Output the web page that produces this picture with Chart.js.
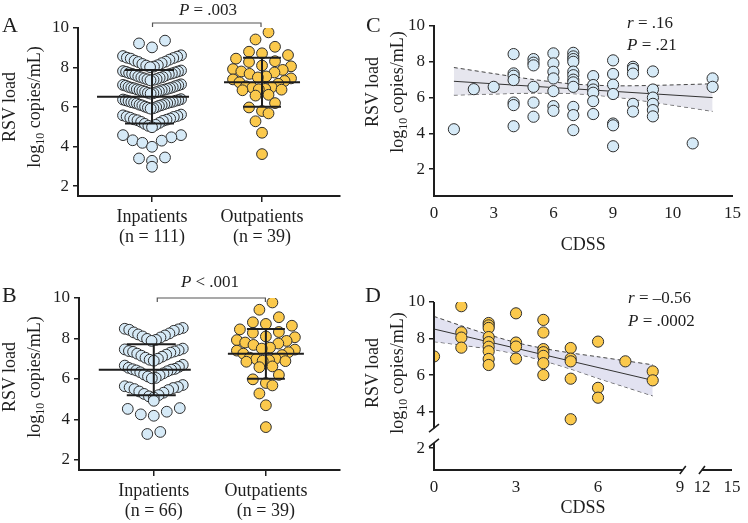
<!DOCTYPE html>
<html><head><meta charset="utf-8">
<script src="https://cdn.jsdelivr.net/npm/chart.js@4.4.1/dist/chart.umd.min.js"></script>
<style>
html,body{margin:0;padding:0;background:#fff;}
#wrap{position:relative;width:748px;height:523px;overflow:hidden;font-family:'Liberation Serif','Times New Roman',serif;color:#1e1e1e;}
canvas{position:absolute;}
.t{position:absolute;white-space:nowrap;line-height:1;font-size:17px;}
.c{transform:translateX(-50%);}
.lbl{position:absolute;font-size:22px;line-height:1;}
.yt{position:absolute;white-space:nowrap;line-height:25px;font-size:18px;text-align:center;transform:translate(-50%,-50%) rotate(-90deg);}
.yt .s{font-size:12px;position:relative;top:4px;}
</style></head>
<body>
<div id="wrap">
  <canvas id="cA" width="374" height="260" style="left:0;top:0"></canvas>
  <canvas id="cB" width="374" height="263" style="left:0;top:260px"></canvas>
  <canvas id="cC" width="374" height="260" style="left:374px;top:0"></canvas>
  <canvas id="cD" width="374" height="263" style="left:374px;top:260px"></canvas>

  <div class="lbl" style="left:2px;top:14px">A</div>
  <div class="lbl" style="left:2px;top:284px">B</div>
  <div class="lbl" style="left:366px;top:14px">C</div>
  <div class="lbl" style="left:365px;top:284px">D</div>

  <div class="yt" style="left:23px;top:107px">RSV load<br>log<span class="s">10</span> copies/mL)</div>
  <div class="yt" style="left:23px;top:377px">RSV load<br>log<span class="s">10</span> copies/mL)</div>
  <div class="yt" style="left:386px;top:92px">RSV load<br>log<span class="s">10</span> copies/mL)</div>
  <div class="yt" style="left:386px;top:373px">RSV load<br>log<span class="s">10</span> copies/mL)</div>

  <div class="t c" style="left:208px;top:1px"><i>P</i> = .003</div>
  <div class="t c" style="left:210px;top:273px"><i>P</i> &lt; .001</div>
  <div class="t" style="left:627px;top:14px"><i>r</i> = .16</div>
  <div class="t" style="left:627px;top:36px"><i>P</i> = .21</div>
  <div class="t" style="left:628px;top:289px"><i>r</i> = &#8211;0.56</div>
  <div class="t" style="left:628px;top:312px"><i>P</i> = .0002</div>
</div>
<script>
// ---------------- DATA ----------------
const yTicks = [2, 4, 6, 8, 10];
const groupLabelsA = [["Inpatients", "(n = 111)"], ["Outpatients", "(n = 39)"]];
const groupLabelsB = [["Inpatients", "(n = 66)"], ["Outpatients", "(n = 39)"]];

const inpatientsA = [
  9.36, 9.22, 9.02,
  8.62, 8.58, 8.55, 8.50, 8.48, 8.45, 8.40, 8.35, 8.30, 8.28, 8.22, 8.18, 8.12, 8.10, 8.05, 8.02,
  7.85, 7.82, 7.80, 7.78, 7.75, 7.72, 7.70, 7.68, 7.66, 7.62, 7.60, 7.55, 7.52, 7.50, 7.48, 7.45, 7.42, 7.40, 7.38, 7.35,
  7.15, 7.12, 7.10, 7.08, 7.06, 7.02, 7.00, 6.98, 6.96, 6.95, 6.92, 6.90, 6.88, 6.86, 6.85, 6.82, 6.80, 6.78, 6.75, 6.72, 6.70, 6.68,
  6.40, 6.38, 6.35, 6.34, 6.32, 6.30, 6.27, 6.25, 6.24, 6.22, 6.20, 6.18, 6.15, 6.12, 6.10, 6.08, 6.06, 6.02, 6.00, 5.97, 5.94, 5.92,
  5.62, 5.58, 5.55, 5.52, 5.50, 5.46, 5.42, 5.38, 5.36, 5.33, 5.30, 5.25, 5.20, 5.15, 5.10, 5.05, 4.98,
  4.58, 4.58, 4.47, 4.32, 4.30, 4.19, 3.99,
  3.45, 3.40, 3.28, 2.98
];
const outpatients = [
  9.78, 9.42, 9.05, 8.80, 8.72, 8.63, 8.45, 8.32, 8.28, 8.10, 8.06, 7.92, 7.88, 7.80, 7.75, 7.68,
  7.55, 7.50, 7.45, 7.40, 7.32, 7.25, 7.18, 7.05, 7.00, 6.98, 6.92, 6.90, 6.88, 6.85, 6.62, 6.58,
  6.20, 5.98, 5.80, 5.68, 5.28, 4.70, 3.62
];
const inpatientsB = [
  8.52, 8.48, 8.45, 8.43, 8.38, 8.30, 8.25, 8.20, 8.15, 8.10, 8.05, 7.98, 7.93, 7.88,
  7.50, 7.46, 7.42, 7.38, 7.36, 7.34, 7.30, 7.25, 7.20, 7.15, 7.10, 7.05, 7.00, 6.95, 6.90,
  6.70, 6.66, 6.60, 6.55, 6.50, 6.48, 6.46, 6.42, 6.38, 6.33, 6.28, 6.22, 6.18, 6.12, 6.05, 6.03,
  5.70, 5.64, 5.60, 5.58, 5.55, 5.50, 5.45, 5.38, 5.32, 5.26, 5.20, 5.14, 5.08,
  4.92, 4.56, 4.52, 4.38, 4.25, 4.18,
  3.38, 3.28
];
const meanA = [6.52, 7.25];
const sdA = [1.35, 1.24];
const meanB = [6.45, 7.24];
const sdB = [1.26, 1.23];

// Panel C: CDSS vs load (inpatients)
const cdssC = [1, 2, 3,
  4, 4, 4, 4, 4, 4, 4,
  5, 5, 5, 5, 5, 5,
  6, 6, 6, 6, 6, 6, 6,
  7, 7, 7, 7, 7, 7, 7, 7, 7, 7, 7, 7,
  8, 8, 8, 8, 8, 8,
  9, 9, 9, 9, 9, 9, 9,
  10, 10, 10, 10, 10,
  11, 11, 11, 11, 11, 11,
  13, 14, 14];
const loadC = [4.23, 6.47, 6.60,
  8.43, 7.35, 7.22, 6.98, 5.72, 5.58, 4.40,
  8.15, 7.95, 7.80, 6.60, 5.72, 4.93,
  8.47, 7.91, 7.44, 7.07, 6.36, 5.52, 5.26,
  8.50, 8.30, 8.15, 8.00, 7.45, 7.25, 7.00, 6.85, 6.60, 5.48, 5.02, 4.18,
  7.20, 6.70, 6.45, 6.27, 5.80, 5.08,
  8.08, 7.32, 6.72, 6.20, 4.55, 4.45, 3.28,
  7.72, 7.60, 7.34, 5.65, 5.22,
  7.46, 6.45, 6.00, 5.65, 5.30, 4.95,
  3.44, 7.07, 6.60];
const fitCx = [1, 14];
const fitCy = [6.91, 6.00];
const bandCx = [1, 3, 5, 7, 9, 11, 14];
const bandCupper = [7.68, 7.34, 7.01, 6.76, 6.66, 6.68, 6.77];
const bandClower = [6.14, 6.20, 6.25, 6.22, 6.04, 5.74, 5.23];
const xTicksC = [0, 3, 6, 9, 12, 15];
const xTickLabelsC = ["0", "3", "6", "9", "10", "15"];

// Panel D: CDSS vs load (outpatients)
const cdssD = [0,
  1, 1, 1, 1,
  2, 2, 2, 2, 2, 2, 2, 2, 2,
  3, 3, 3, 3,
  4, 4, 4, 4, 4, 4, 4,
  5, 5, 5, 5, 5,
  6, 6, 6,
  7,
  8, 8];
const loadD = [7.02,
  9.77, 8.34, 8.05, 7.50,
  8.85, 8.72, 8.58, 8.08, 7.80, 7.55, 7.30, 6.88, 6.55,
  9.38, 7.78, 7.56, 6.90,
  9.02, 8.33, 7.42, 7.25, 7.05, 6.65, 6.00,
  7.48, 6.90, 6.75, 5.80, 3.58,
  7.83, 5.30, 4.76,
  6.75,
  6.20, 5.71];
const fitDx = [0, 8];
const fitDy = [8.52, 5.71];
const bandDx = [0, 1, 2, 3, 4, 5, 6, 7, 8];
const bandDupper = [9.21, 8.70, 8.21, 7.78, 7.46, 7.21, 7.00, 6.78, 6.56];
const bandDlower = [7.83, 7.64, 7.43, 7.16, 6.78, 6.33, 5.82, 5.34, 4.86];
const xTicksD = [0, 3, 6, 9, 12, 15];
const xTickLabelsD = ["0", "3", "6", "9", "12", "15"];

// ---------------- STYLE / HELPERS ----------------
const SERIF = "'Liberation Serif','Times New Roman',serif";
const INK = '#1e1e1e';
const BLUE = '#d6eaf7';
const YELLOW = '#fbc94c';
const PT_BORDER = '#2e2e2e';

// broken D x-axis: map real CDSS to axis position (9 -> 12 gap compressed)
function mapD(v) { return v <= 9 ? v : 9.8 + (v - 12) * (1.1 / 3); }

// rows of a dot plot: either fixed bins or gap-separated clusters
function rowGroups(values, opt) {
  const groups = [];
  if (opt.mode === 'bin') {
    const bins = new Map();
    values.forEach((v, i) => {
      const k = Math.floor((v - opt.base) / opt.h);
      if (!bins.has(k)) bins.set(k, []);
      bins.get(k).push(i);
    });
    bins.forEach(g => groups.push(g));
  } else {
    const idx = values.map((v, i) => i).sort((a, b) => values[b] - values[a]);
    let cur = [], top = 0, prev = 0;
    idx.forEach(i => {
      const v = values[i];
      if (cur.length && (prev - v > opt.gap || top - v > opt.maxH)) { groups.push(cur); cur = []; }
      if (!cur.length) top = v;
      cur.push(i); prev = v;
    });
    if (cur.length) groups.push(cur);
  }
  return groups;
}

function swarmOffsets(values, opt) {
  const off = new Array(values.length).fill(0);
  rowGroups(values, opt).forEach(idx => {
    idx.sort((a, b) => values[a] - values[b]);
    const n = idx.length;
    const s = n > 1 ? Math.min(opt.spacing, opt.maxW / (n - 1)) : 0;
    const slots = [];
    for (let j = 0; j < n; j++) slots.push((j - (n - 1) / 2) * s);
    slots.sort((a, b) => (Math.abs(a) - Math.abs(b)) || (a - b));
    idx.forEach((p, j) => { off[p] = slots[j]; });
  });
  return off;
}

function yAxis(min, width, opts = {}) {
  return {
    type: 'linear', min: min, max: 10,
    afterBuildTicks: s => { s.ticks = yTicks.map(v => ({ value: v })); },
    afterFit: s => { s.width = width; },
    border: { display: opts.border !== false, color: INK, width: 2 },
    grid: { display: true, drawOnChartArea: false, drawTicks: true, tickLength: 5, color: INK, lineWidth: 1.5 },
    ticks: { color: INK, font: { family: SERIF, size: 17 }, padding: 4 }
  };
}

const meanSdPlugin = {
  id: 'meanSd',
  afterDatasetsDraw(chart, args, o) {
    if (!o || !o.means) return;
    const { ctx, scales: { x, y } } = chart;
    ctx.save();
    ctx.strokeStyle = INK;
    ctx.lineWidth = 2;
    o.means.forEach((m, i) => {
      const cx = x.getPixelForValue(i);
      const my = y.getPixelForValue(m);
      const hy = y.getPixelForValue(m + o.sds[i]);
      const ly = y.getPixelForValue(m - o.sds[i]);
      const mw = o.meanW[i], cw = o.capW[i];
      ctx.beginPath();
      ctx.moveTo(cx - mw[0], my); ctx.lineTo(cx + mw[1], my);
      ctx.moveTo(cx, hy); ctx.lineTo(cx, ly);
      ctx.moveTo(cx - cw[0], hy); ctx.lineTo(cx + cw[1], hy);
      ctx.moveTo(cx - cw[0], ly); ctx.lineTo(cx + cw[1], ly);
      ctx.stroke();
    });
    const b = o.bracket;
    const by = y.getPixelForValue(10) + b.dy;
    const x0 = x.getPixelForValue(0) + b.dx0, x1 = x.getPixelForValue(1) + b.dx1;
    ctx.strokeStyle = '#555';
    ctx.lineWidth = 1.2;
    ctx.beginPath();
    ctx.moveTo(x0, by + 4); ctx.lineTo(x0, by); ctx.lineTo(x1, by); ctx.lineTo(x1, by + 4);
    ctx.stroke();
    ctx.restore();
  }
};

const brokenAxesPlugin = {
  id: 'brokenAxes',
  afterDraw(chart, args, o) {
    if (!o || !o.xBreak) return;
    const { ctx, chartArea: a, scales: { x, y } } = chart;
    ctx.save();
    ctx.strokeStyle = INK;
    ctx.lineWidth = 2;
    const xb1 = x.getPixelForValue(o.xBreak[0]), xb2 = x.getPixelForValue(o.xBreak[1]);
    const yb1 = y.getPixelForValue(o.yBreak[0]), yb2 = y.getPixelForValue(o.yBreak[1]);
    ctx.beginPath();
    ctx.moveTo(a.left, a.top); ctx.lineTo(a.left, yb1);
    ctx.moveTo(a.left, yb2); ctx.lineTo(a.left, a.bottom);
    ctx.moveTo(a.left - 1, a.bottom); ctx.lineTo(xb1, a.bottom);
    ctx.moveTo(xb2, a.bottom); ctx.lineTo(a.right, a.bottom);
    ctx.stroke();
    ctx.lineWidth = 1.6;
    ctx.beginPath();
    [yb1, yb2].forEach(py => { ctx.moveTo(a.left - 5, py + 4); ctx.lineTo(a.left + 5, py - 4); });
    [xb1, xb2].forEach(px => { ctx.moveTo(px - 3, a.bottom + 4); ctx.lineTo(px + 3, a.bottom - 4); });
    ctx.stroke();
    ctx.restore();
  }
};

function swarmChart(id, inVals, outVals, labels, means, sds, L) {
  const chart = new Chart(document.getElementById(id), {
    type: 'scatter',
    data: {
      datasets: [
        { data: inVals.map(v => ({ x: 0, y: v })), backgroundColor: BLUE, borderColor: PT_BORDER, borderWidth: 1, pointRadius: 5.4 },
        { data: outVals.map(v => ({ x: 1, y: v })), backgroundColor: YELLOW, borderColor: PT_BORDER, borderWidth: 1, pointRadius: 5.4 }
      ]
    },
    options: {
      responsive: false, animation: false, events: [],
      layout: { padding: { top: L.top, right: L.right, left: 0, bottom: 0 } },
      plugins: {
        legend: { display: false }, tooltip: { enabled: false },
        meanSd: { means: means, sds: sds, meanW: [[55, 37], [38, 38]], capW: [[27, 22], [19, 19]], bracket: L.bracket }
      },
      scales: {
        x: {
          type: 'linear', min: L.xmin, max: L.xmax,
          afterBuildTicks: s => { s.ticks = [{ value: 0 }, { value: 1 }]; },
          afterFit: s => { s.height = L.xh; },
          border: { display: true, color: INK, width: 2 },
          grid: { display: true, drawOnChartArea: false, drawTicks: true, tickLength: 6, color: INK, lineWidth: 1.5 },
          ticks: { color: INK, font: { family: SERIF, size: 18, lineHeight: 1.13 }, padding: 5,
                   callback: (v, i) => labels[i] }
        },
        y: yAxis(1.5, L.yw)
      }
    },
    plugins: [meanSdPlugin]
  });
  const x = chart.scales.x;
  const pxPerX = x.getPixelForValue(1) - x.getPixelForValue(0);
  const oi = swarmOffsets(inVals, { mode: 'gap', gap: 0.25, maxH: 0.68, spacing: 13, maxW: 58 });
  const oo = swarmOffsets(outVals, { mode: 'bin', h: 0.6, base: 0.3, spacing: 13, maxW: 58 });
  chart.data.datasets[0].data = inVals.map((v, i) => ({ x: oi[i] / pxPerX, y: v }));
  chart.data.datasets[1].data = outVals.map((v, i) => ({ x: 1 + oo[i] / pxPerX, y: v }));
  chart.update('none');
  return chart;
}

swarmChart('cA', inpatientsA, outpatients, groupLabelsA, meanA, sdA,
  { top: 28, right: 34, xh: 64, yw: 78, xmin: -0.673, xmax: 1.709, bracket: { dy: -5, dx0: 0.5, dx1: -1 } });
swarmChart('cB', inpatientsB, outpatients, groupLabelsB, meanB, sdB,
  { top: 38, right: 34, xh: 53, yw: 79, xmin: -0.667, xmax: 1.661, bracket: { dy: 0, dx0: 3.5, dx1: -0.5 } });

function corrChart(id, xs, ys, color, fitX, fitY, bx, bup, blo, bandColor, L) {
  const mapX = L.mapX || (v => v);
  return new Chart(document.getElementById(id), {
    type: 'scatter',
    data: {
      datasets: [
        { data: xs.map((v, i) => ({ x: mapX(v), y: ys[i] })), backgroundColor: color, borderColor: PT_BORDER, borderWidth: 1, pointRadius: 5.6 },
        { type: 'line', data: fitX.map((v, i) => ({ x: mapX(v), y: fitY[i] })), borderColor: '#333', borderWidth: 1, pointRadius: 0, fill: false },
        { type: 'line', data: bx.map((v, i) => ({ x: mapX(v), y: bup[i] })), borderColor: '#444', borderWidth: 1, borderDash: [4, 3], pointRadius: 0, tension: 0.3, fill: '+1', backgroundColor: bandColor },
        { type: 'line', data: bx.map((v, i) => ({ x: mapX(v), y: blo[i] })), borderColor: '#444', borderWidth: 1, borderDash: [4, 3], pointRadius: 0, tension: 0.3, fill: false }
      ]
    },
    options: {
      responsive: false, animation: false, events: [],
      layout: { padding: { top: L.top, right: L.right, left: 0, bottom: 0 } },
      plugins: { legend: { display: false }, tooltip: { enabled: false }, brokenAxes: L.broken || {} },
      scales: {
        x: {
          type: 'linear', min: 0, max: L.xmax,
          afterBuildTicks: s => { s.ticks = L.xticks.map(v => ({ value: mapX(v) })); },
          afterFit: s => { s.height = L.xh; },
          border: { display: !L.broken, color: INK, width: 2 },
          grid: { display: true, drawOnChartArea: false, drawTicks: false, color: INK },
          ticks: { color: INK, font: { family: SERIF, size: 17 }, padding: 7, autoSkip: false, maxRotation: 0,
                   callback: (v, i) => L.xlabels[i] },
          title: { display: true, text: 'CDSS', color: INK, font: { family: SERIF, size: 18 }, padding: { top: 6 } }
        },
        y: yAxis(L.ymin, L.yw, { border: !L.broken })
      }
    },
    plugins: [brokenAxesPlugin]
  });
}

corrChart('cC', cdssC, loadC, BLUE, fitCx, fitCy, bandCx, bandCupper, bandClower, 'rgba(222,222,232,0.75)',
  { top: 26, right: 10, xh: 64, yw: 60, xmax: 15, ymin: 0.5, xticks: xTicksC, xlabels: xTickLabelsC });
corrChart('cD', cdssD, loadD, YELLOW, fitDx, fitDy, bandDx, bandDupper, bandDlower, 'rgba(216,216,236,0.75)',
  { top: 42, right: 16, xh: 53, yw: 60, xmax: 10.9, ymin: 0.8, xticks: xTicksD, xlabels: xTickLabelsD, mapX: mapD,
    broken: { xBreak: [9.1, 9.8], yBreak: [3.09, 2.28] } });
</script>
</body></html>
